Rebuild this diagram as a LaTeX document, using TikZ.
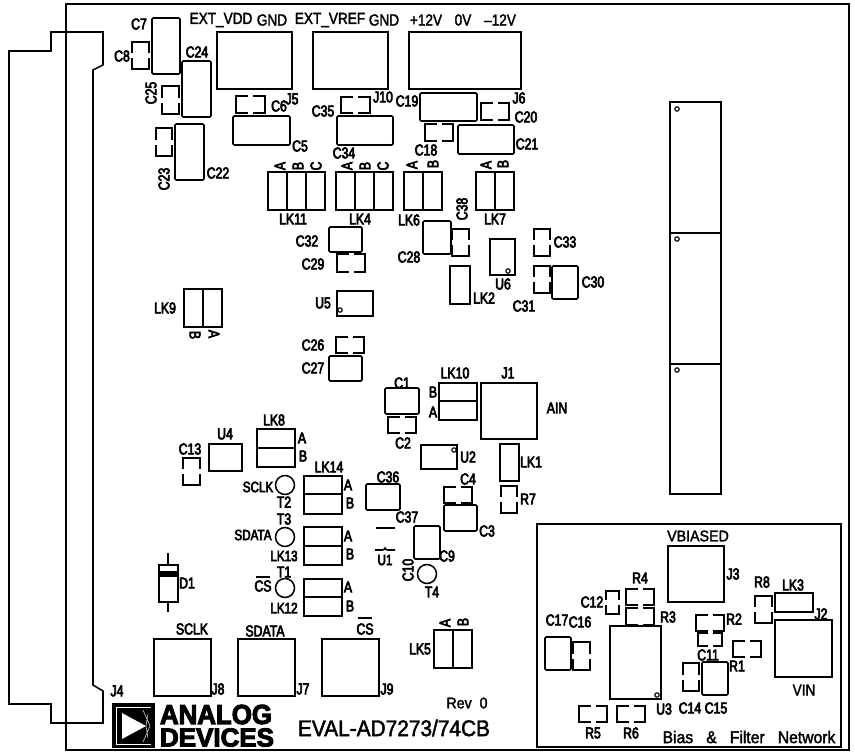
\documentclass[tikz,border=0pt]{standalone}
\usepackage{fontspec}
\usepackage{graphicx}
\setmainfont{Liberation Sans}[FakeStretch=0.78,FakeBold=4]
\newfontfamily\widefont{Liberation Sans}[FakeStretch=0.85,FakeBold=2]
\newfontfamily\evalfont{Liberation Sans}[FakeStretch=0.92,FakeBold=2]
\newfontfamily\logofont{Liberation Sans}[UprightFont={* Bold},FakeBold=4]
\tikzset{
  pcb/.style={line width=1.15pt,line join=miter,line cap=butt},
  capbox/.style={pcb,rounded corners=0.9pt},
  lb/.style={inner sep=0pt,font=\fontsize{11.8pt}{12pt}\selectfont},
  lbs/.style={inner sep=0pt,font=\fontsize{11.2pt}{12pt}\selectfont},
  toptext/.style={inner sep=0pt,font=\widefont\fontsize{12pt}{13pt}\selectfont},
  evaltext/.style={inner sep=0pt,font=\evalfont\fontsize{11.6pt}{13pt}\selectfont},
  rv/.style={lb,rotate=90},
  rm/.style={lb,rotate=-90},
}
% footprints, all in reference pixels
\newcommand{\rct}[4]{\draw[pcb] (#1,#2) rectangle (#3,#4);}
\newcommand{\rnd}[4]{\draw[capbox] (#1,#2) rectangle (#3,#4);}
% gaps in the long vertical sides
\newcommand{\gv}[4]{%
  \pgfmathsetmacro{\ma}{(#2+#4)/2-2.5}\pgfmathsetmacro{\mb}{(#2+#4)/2+2.5}%
  \draw[pcb] (#1,\ma) -- (#1,#2) -- (#3,#2) -- (#3,\ma);
  \draw[pcb] (#1,\mb) -- (#1,#4) -- (#3,#4) -- (#3,\mb);}
% gaps in the long horizontal sides
\newcommand{\gh}[4]{%
  \pgfmathsetmacro{\ma}{(#1+#3)/2-2.5}\pgfmathsetmacro{\mb}{(#1+#3)/2+2.5}%
  \draw[pcb] (\ma,#2) -- (#1,#2) -- (#1,#4) -- (\ma,#4);
  \draw[pcb] (\mb,#2) -- (#3,#2) -- (#3,#4) -- (\mb,#4);}
\newcommand{\hole}[2]{\draw[line width=0.85pt] (#1,#2) circle (2.2);}
\begin{document}
\begin{tikzpicture}[x=0.75pt,y=-0.75pt]
\useasboundingbox (0,0) rectangle (855,753);
% board and connector
\draw[pcb,line width=1.3pt] (66,4) rectangle (849,750);
\draw[pcb] (9,51) -- (51,51) -- (51,32) -- (103,32) -- (103,65) -- (93,70) -- (93,685) -- (103,691) -- (103,723) -- (51,723) -- (51,704) -- (9,704) -- cycle;
% filter network frame
\draw[pcb,line width=1.3pt] (537,524) rectangle (841,747);
% big blocks
\rct{217}{32}{292}{89}\rct{313}{32}{388}{89}\rct{409}{32}{521}{89}
\rct{670}{102}{721}{494}
\draw[pcb,line width=1.6pt] (670,233) -- (721,233) (670,364) -- (721,364);
\hole{677}{109}\hole{677}{239}\hole{677}{370}
% top-left caps
\rnd{152}{18}{180}{74}\gv{132}{42}{149}{69}
\rnd{182}{61}{211}{117}\gv{162}{86}{179}{114}
\gv{156}{128}{172}{156}\rnd{175}{124}{204}{180}
\gh{236}{96}{265}{113}\rnd{233}{116}{290}{145}
\gh{341}{97}{370}{113}\rnd{337}{116}{393}{145}
\rnd{420}{93}{477}{121}\gh{481}{103}{509}{120}
\gh{425}{124}{453}{141}\rnd{458}{125}{514}{154}
% links
\rct{268}{172}{325}{210}\draw[pcb] (287,172)--(287,210) (306,172)--(306,210);
\rct{336}{172}{393}{210}\draw[pcb] (355,172)--(355,210) (374,172)--(374,210);
\rct{404}{172}{442}{210}\draw[pcb] (423,172)--(423,210);
\rct{476}{172}{514}{210}\draw[pcb] (495,172)--(495,210);
\rct{184}{289}{222}{327}\draw[pcb] (203,289)--(203,327);
\rct{257}{429}{295}{467}\draw[pcb] (257,448)--(295,448);
\rct{304}{476}{342}{514}\draw[pcb] (304,494)--(342,494);
\rct{304}{527}{342}{565}\draw[pcb] (304,546)--(342,546);
\rct{304}{579}{342}{616}\draw[pcb] (304,597)--(342,597);
\rct{439}{383}{477}{420}\draw[pcb] (439,401)--(477,401);
\rct{434}{630}{472}{668}\draw[pcb] (453,630)--(453,668);
\rct{450}{266}{470}{304}\rct{500}{444}{519}{481}\rct{775}{593}{813}{612}
% middle parts
\rnd{423}{221}{451}{254}\gv{452}{229}{469}{256}
\rct{490}{239}{515}{275}\hole{508}{271}
\gv{534}{229}{550}{256}\gv{534}{266}{550}{293}\rnd{552}{266}{578}{299}
\rnd{329}{227}{362}{252}\gh{337}{254}{365}{272}
\rct{337}{291}{373}{316}\hole{340}{310}
\gh{336}{337}{364}{353}\rnd{329}{356}{362}{381}
\rnd{385}{388}{419}{414}\gh{388}{417}{416}{433}
\rct{209}{444}{242}{471}\gv{183}{458}{200}{485}
\rct{481}{383}{537}{439}
\rct{421}{445}{457}{469}\hole{454}{450}
\gv{501}{486}{517}{513}
\gh{444}{487}{472}{503}\rnd{444}{505}{477}{531}
\rnd{366}{484}{400}{510}\rnd{414}{526}{440}{559}
\draw[pcb] (376,528)--(395,528);
\draw[pcb] (375,550)--(382.5,550) .. controls (384,550) and (384.5,549) .. (385,548) .. controls (385.5,549) and (386,550) .. (387.5,550) -- (395,550);
% test points
\draw[pcb] (285,485) circle (9.5) (285,537) circle (9.5) (285,588) circle (9.5) (427,574) circle (9.5);
% diode
\rct{159}{565}{178}{602}
\fill (159,571) rectangle (178,577);
\draw[pcb] (168,553)--(168,565) (168,602)--(168,612);
% connectors bottom
\rct{154}{639}{211}{696}\rct{238}{639}{295}{696}\rct{322}{639}{379}{696}
% filter network
\rct{668}{546}{724}{602}
\gh{626}{589}{654}{605}\gh{626}{608}{654}{625}\gv{606}{591}{619}{614}
\rct{610}{626}{661}{699}\hole{657}{695}
\rnd{545}{637}{571}{670}\gv{573}{642}{590}{670}
\gh{579}{706}{607}{722}\gh{617}{706}{645}{722}
\gh{696}{615}{724}{631}\gh{698}{633}{722}{646}\gh{733}{641}{761}{657}
\gv{683}{663}{699}{691}\rnd{702}{662}{728}{695}
\gv{755}{596}{772}{623}
\rct{775}{620}{832}{677}
% logo
\fill (112,703) rectangle (155,748);
\draw[white,line width=0.5pt] (116,707) -- (151,707) (116,744) -- (151,744) (116,707) -- (116,744);
\fill[white] (122,713) -- (146,726) -- (122,739) -- cycle;
\draw[white,line width=0.35pt] (146,726) -- (148,714) (146,726) -- (148,738) (143,710) -- (150,726) -- (143,742);
\node[inner sep=0pt] (logoA) at (216,714.5) {\resizebox{84pt}{14.4pt}{\logofont ANALOG}};
\node[inner sep=0pt] (logoB) at (217,737.5) {\resizebox{85.5pt}{13.6pt}{\logofont DEVICES}};
% top texts
\node[toptext] (t1) at (221,20) {EXT\_VDD};
\node[toptext] (t2) at (272,20) {GND};
\node[toptext] (t3) at (330,20) {EXT\_VREF};
\node[toptext] (t4) at (384,20) {GND};
\node[toptext] (t5) at (426,20) {+12V};
\node[toptext] (t6) at (463,20) {0V};
\node[toptext] (t7) at (500,20) {–12V};
% labels
\node[lb] (C7) at (139,24) {C7};
\node[lb] (C8) at (122,56) {C8};
\node[lb] (C24) at (197,52) {C24};
\node[rv] (C25) at (151,93) {C25};
\node[rv] (C23) at (164,179) {C23};
\node[lb] (C22) at (218,173) {C22};
\node[lb] (C6) at (279,106) {C6};
\node[lb] (J5) at (292,99) {J5};
\node[lb] (J10) at (383,97) {J10};
\node[lb] (C35) at (323,111) {C35};
\node[lb] (C5) at (300,146) {C5};
\node[lb] (C34) at (344,153) {C34};
\node[lb] (C19) at (407,101) {C19};
\node[lb] (J6) at (519,98) {J6};
\node[lb] (C20) at (526,117) {C20};
\node[lb] (C18) at (426,150) {C18};
\node[lb] (C21) at (527,144) {C21};
\node[rv] (a1) at (280,166) {A};
\node[rv] (b1) at (298,166) {B};
\node[rv] (c1) at (316,166) {C};
\node[rv] (a2) at (347,166) {A};
\node[rv] (b2) at (365,166) {B};
\node[rv] (c2) at (383,166) {C};
\node[rv] (a3) at (412,165) {A};
\node[rv] (b3) at (433,164) {B};
\node[rv] (a4) at (486,165) {A};
\node[rv] (b4) at (503,164) {B};
\node[lb] (LK11) at (293,219) {LK11};
\node[lb] (LK4) at (360,219) {LK4};
\node[lb] (LK6) at (409,220) {LK6};
\node[lb] (LK7) at (495,219) {LK7};
\node[rv] (C38) at (462,209) {C38};
\node[lb] (C28) at (409,257) {C28};
\node[lb] (C33) at (565,242) {C33};
\node[lb] (C30) at (593,282) {C30};
\node[lb] (C31) at (524,306) {C31};
\node[lb] (U6) at (503,284) {U6};
\node[lb] (LK2) at (484,298) {LK2};
\node[lb] (C32) at (307,241) {C32};
\node[lb] (C29) at (313,264) {C29};
\node[lb] (U5) at (323,303) {U5};
\node[lb] (LK9) at (165,308) {LK9};
\node[rm] (b5) at (195,335) {B};
\node[rm] (a5) at (214,334) {A};
\node[lb] (C26) at (313,345) {C26};
\node[lb] (C27) at (313,368) {C27};
\node[lb] (C1) at (402,383) {C1};
\node[lb] (C2) at (403,443) {C2};
\node[lb] (LK8) at (274,420) {LK8};
\node[lb] (a6) at (302,438) {A};
\node[lb] (b6) at (303,456) {B};
\node[lb] (U4) at (225,434) {U4};
\node[lb] (C13) at (190,449) {C13};
\node[lbs] (sclk1) at (258,487) {SCLK};
\node[lb] (T2) at (284,502) {T2};
\node[lb] (LK14) at (329,467) {LK14};
\node[lb] (a7) at (348,485) {A};
\node[lb] (b7) at (350,503) {B};
\node[lb] (C36) at (388,477) {C36};
\node[lb] (LK10) at (455,373) {LK10};
\node[lb] (J1) at (508,373) {J1};
\node[lb] (b8) at (433,392) {B};
\node[lb] (a8) at (433,412) {A};
\node[lb] (AIN) at (557,408) {AIN};
\node[lb] (U2) at (468,457) {U2};
\node[lb] (LK1) at (531,462) {LK1};
\node[lb] (R7) at (528,499) {R7};
\node[lb] (C4) at (468,479) {C4};
\node[lb] (C3) at (487,531) {C3};
\node[lb] (C37) at (407,517) {C37};
\node[lbs] (U1) at (385,560) {U1};
\node[lb] (C9) at (447,556) {C9};
\node[rv] (C10) at (408,570) {C10};
\node[lb] (T4) at (432,592) {T4};
\node[lb] (T3) at (284,519) {T3};
\node[lbs] (sdata1) at (253,535) {SDATA};
\node[lbs] (LK13) at (284,556) {LK13};
\node[lb] (a9) at (348,536) {A};
\node[lb] (b9) at (350,554) {B};
\node[lb] (T1) at (284,572) {T1};
\node[lb] (cs1) at (263,586) {CS};
\draw[pcb] (256,577) -- (270,577);
\node[lbs] (LK12) at (284,608) {LK12};
\node[lb] (a10) at (348,587) {A};
\node[lb] (b10) at (350,606) {B};
\node[lb] (D1) at (187,583) {D1};
\node[lb] (sclk2) at (192,629) {SCLK};
\node[lb] (sdata2) at (265,631) {SDATA};
\node[lb] (cs2) at (365,629) {CS};
\draw[pcb] (358,618) -- (372,618);
\node[lb] (J8) at (218,689) {J8};
\node[lb] (J7) at (303,689) {J7};
\node[lb] (J9) at (387,689) {J9};
\node[lb] (LK5) at (420,649) {LK5};
\node[rv] (a11) at (445,623) {A};
\node[rv] (b11) at (463,622) {B};
\node[evaltext] (rev) at (467,703) {Rev\ \ 0};
\node[evaltext,font=\evalfont\fontsize{17pt}{19pt}\selectfont] (eval) at (394,728) {EVAL-AD7273/74CB};
\node[lb] (J4) at (117,691) {J4};
\node[evaltext] (VB) at (698,536) {VBIASED};
\node[lb] (J3) at (733,574) {J3};
\node[lb] (R4) at (640,578) {R4};
\node[lb] (R3) at (668,617) {R3};
\node[lb] (C12) at (592,602) {C12};
\node[lb] (C17) at (557,620) {C17};
\node[lb] (C16) at (580,622) {C16};
\node[lb] (R2) at (734,619) {R2};
\node[lb] (C11) at (708,655) {C11};
\node[lb] (R1) at (737,666) {R1};
\node[lb] (R8) at (762,582) {R8};
\node[lb] (LK3) at (793,585) {LK3};
\node[lb] (J2) at (821,614) {J2};
\node[toptext] (VIN) at (804,690) {VIN};
\node[lb] (U3) at (664,709) {U3};
\node[lb] (C14) at (690,708) {C14};
\node[lb] (C15) at (716,708) {C15};
\node[lb] (R5) at (593,733) {R5};
\node[lb] (R6) at (631,733) {R6};
\node[evaltext,font=\evalfont\fontsize{12.8pt}{14pt}\selectfont] (bias) at (749,737) {Bias\ \ \ \&\ \ \ Filter\ \ \ Network};
\end{tikzpicture}
\end{document}
